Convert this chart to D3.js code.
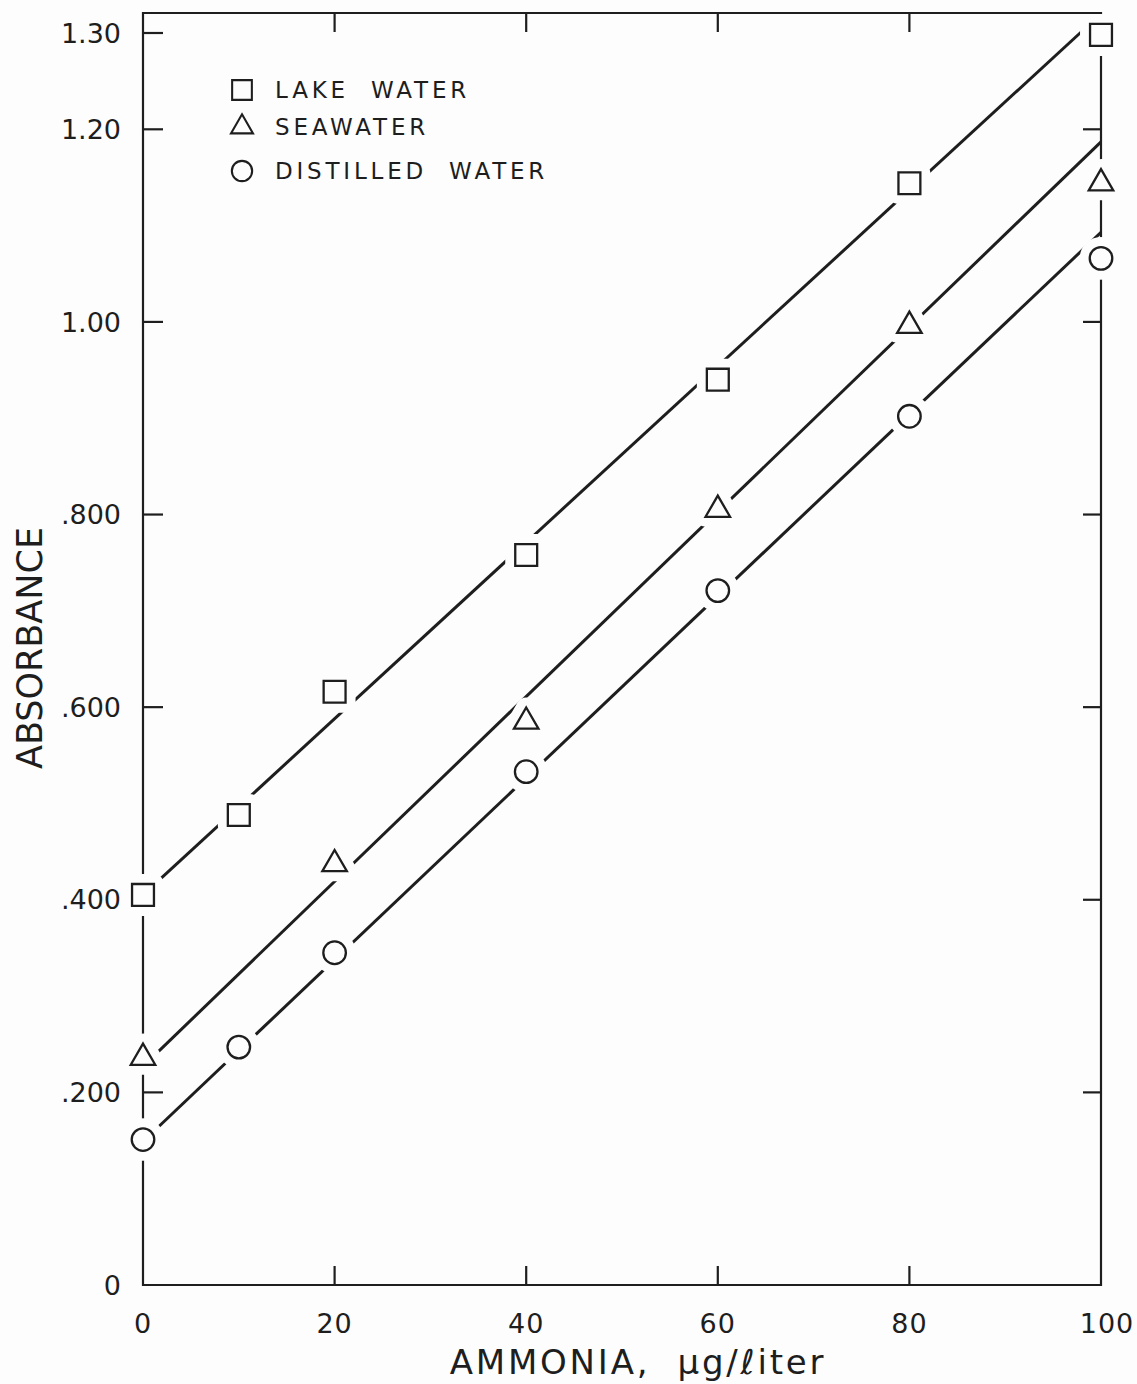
<!DOCTYPE html>
<html>
<head>
<meta charset="utf-8">
<script src="https://cdn.jsdelivr.net/npm/d3@7"></script>
<style>
  html, body { margin: 0; padding: 0; background: #fdfdfd; }
  svg { display: block; }
</style>
</head>
<body>
<div id="chart"></div>
<script>
// data
const ammonia = [0, 10, 20, 40, 60, 80, 100];
const lakeWater = [0.405, 0.488, 0.616, 0.758, 0.940, 1.144, 1.298];
const seaX = [0, 20, 40, 60, 80, 100];
const seawater = [0.236, 0.437, 0.585, 0.805, 0.996, 1.144];
const distilledWater = [0.151, 0.247, 0.345, 0.533, 0.721, 0.902, 1.066];
// fitted lines: value at 0 and at 100
const lakeFit = [0.405, 1.320];
const seaFit = [0.227, 1.187];
const distilledFit = [0.149, 1.093];

const yTicks = [0, 0.2, 0.4, 0.6, 0.8, 1.0, 1.2, 1.3];
const yTickLabels = ["0", ".200", ".400", ".600", ".800", "1.00", "1.20", "1.30"];
const xTicks = [0, 20, 40, 60, 80, 100];
const legendLabels = ["LAKE WATER", "SEAWATER", "DISTILLED WATER"];

const W = 1137, H = 1384;
const ink = "#1e1e1e";
const font = "'DejaVu Sans', sans-serif";

const svg = d3.select("#chart").append("svg")
  .attr("width", W).attr("height", H)
  .attr("viewBox", [0, 0, W, H]);

const x = d3.scaleLinear().domain([0, 100]).range([143, 1101]);
const y = d3.scaleLinear().domain([0, 1.3]).range([1285, 33]);
const frameTop = 13;

// frame
const frame = svg.append("g").attr("stroke", ink).attr("stroke-width", 2.2).attr("fill", "none");
frame.append("path")
  .attr("d", `M${x(0)},${frameTop}H${x(100)}V${y(0)}H${x(0)}Z`);

// ticks, inward
frame.selectAll("line.yl").data(yTicks.filter(d => d > 0)).join("line")
  .attr("x1", x(0)).attr("x2", x(0) + 20)
  .attr("y1", d => y(d)).attr("y2", d => y(d));
frame.selectAll("line.yr").data(yTicks.filter(d => d > 0)).join("line")
  .attr("x1", x(100)).attr("x2", x(100) - 18)
  .attr("y1", d => y(d)).attr("y2", d => y(d));
frame.selectAll("line.xb").data(xTicks.slice(1, -1)).join("line")
  .attr("x1", d => x(d)).attr("x2", d => x(d))
  .attr("y1", y(0)).attr("y2", y(0) - 19);
frame.selectAll("line.xt").data(xTicks.slice(1, -1)).join("line")
  .attr("x1", d => x(d)).attr("x2", d => x(d))
  .attr("y1", frameTop).attr("y2", frameTop + 19);

// tick labels
svg.append("g").selectAll("text").data(yTicks).join("text")
  .attr("x", 121).attr("y", d => y(d)).attr("dy", "0.36em")
  .attr("text-anchor", "end")
  .attr("font-family", font).attr("font-size", 27).attr("fill", ink)
  .text((d, i) => yTickLabels[i]);

svg.append("g").selectAll("text").data(xTicks).join("text")
  .attr("x", d => x(d) + (d === 100 ? 6 : 0)).attr("y", 1333)
  .attr("text-anchor", "middle")
  .attr("font-family", font).attr("font-size", 27).attr("fill", ink)
  .attr("letter-spacing", 1)
  .text(d => d);

// axis titles
svg.append("text")
  .attr("x", 638).attr("y", 1374)
  .attr("text-anchor", "middle")
  .attr("font-family", font).attr("font-size", 34).attr("fill", ink)
  .attr("letter-spacing", 2.8)
  .attr("xml:space", "preserve")
  .text("AMMONIA,  μg/ℓiter");

svg.append("text")
  .attr("transform", "translate(42,648) rotate(-90)")
  .attr("text-anchor", "middle")
  .attr("font-family", font).attr("font-size", 35).attr("fill", ink)
  .text("ABSORBANCE");

// fitted lines
const fits = [lakeFit, seaFit, distilledFit];
svg.append("g").selectAll("line").data(fits).join("line")
  .attr("x1", x(0)).attr("y1", d => y(d[0]))
  .attr("x2", x(100)).attr("y2", d => y(d[1]))
  .attr("stroke", ink).attr("stroke-width", 3);

// marker shapes
const shapes = {
  square: d3.symbol(d3.symbolSquare, 480),
  triangle: d3.symbol(d3.symbolTriangle, 260),
  circle: d3.symbol(d3.symbolCircle, 400)
};

function markers(xs, ys, shape) {
  const pts = xs.map((d, i) => [x(d), y(ys[i])]);
  const g = svg.append("g");
  // white halo that breaks lines and axes around the point
  g.selectAll("path.halo").data(pts).join("path")
    .attr("class", "halo")
    .attr("transform", d => `translate(${d[0]},${d[1]})`)
    .attr("d", shape)
    .attr("fill", "#fdfdfd").attr("stroke", "#fdfdfd").attr("stroke-width", 20)
    .attr("stroke-linejoin", "round");
  g.selectAll("path.mark").data(pts).join("path")
    .attr("class", "mark")
    .attr("transform", d => `translate(${d[0]},${d[1]})`)
    .attr("d", shape)
    .attr("fill", "#fdfdfd").attr("stroke", ink).attr("stroke-width", 2.3);
}

markers(ammonia, lakeWater, shapes.square);
markers(seaX, seawater, shapes.triangle);
markers(ammonia, distilledWater, shapes.circle);

// legend
const legendShapes = [shapes.square, shapes.triangle, shapes.circle];
const legendY = [90, 127, 171];
const legend = svg.append("g");
legendLabels.forEach((lab, i) => {
  legend.append("path")
    .attr("transform", `translate(242,${legendY[i]}) scale(0.9)`)
    .attr("d", legendShapes[i])
    .attr("fill", "none").attr("stroke", ink).attr("stroke-width", 2.3);
  legend.append("text")
    .attr("x", 275).attr("y", legendY[i]).attr("dy", "0.36em")
    .attr("font-family", font).attr("font-size", 23).attr("fill", ink)
    .attr("letter-spacing", 3.8)
    .attr("word-spacing", 11)
    .text(lab);
});
</script>
</body>
</html>
